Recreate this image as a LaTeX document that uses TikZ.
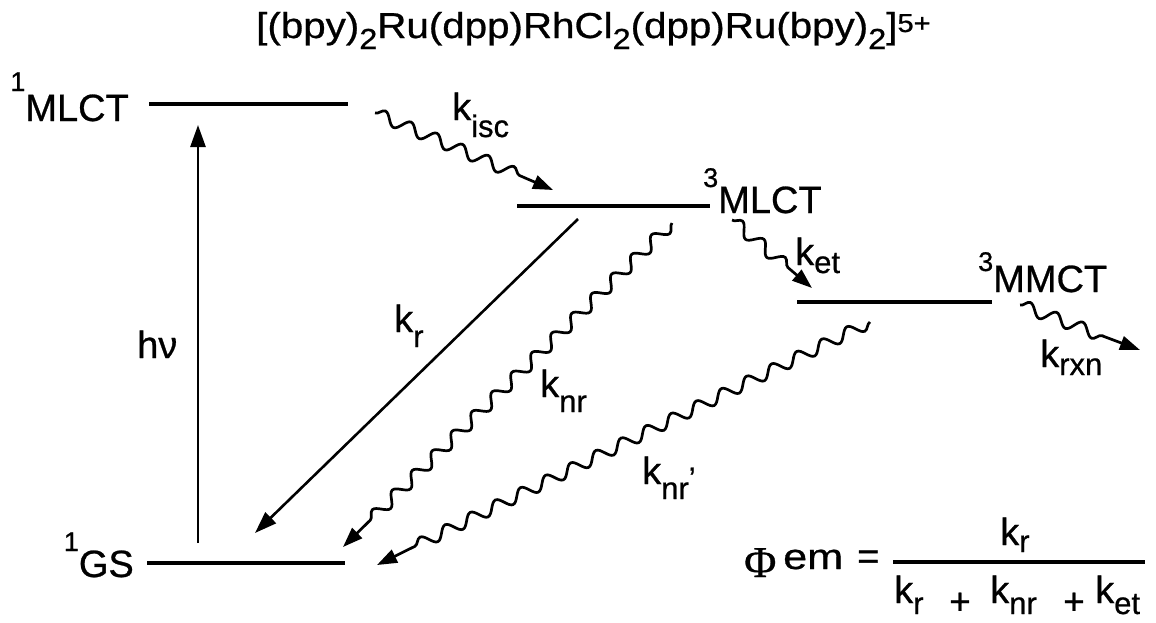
\documentclass[tikz,border=0pt]{standalone}
\usepackage{graphicx}
\usepackage{fontspec}
\setmainfont{Liberation Sans}[FakeBold=0.7]
\newfontfamily\serifphi{Liberation Serif}[FakeBold=0.7]
\usetikzlibrary{decorations.pathmorphing,arrows.meta}
\newcommand\Sub[2][16pt]{\raisebox{-#1}{\fontsize{31}{32}\selectfont #2}}
\newcommand\Sup[2][24pt]{\raisebox{#1}{\fontsize{27}{28}\selectfont #2}}
\newcommand\TSub[1]{\raisebox{-11pt}{\fontsize{29}{30}\selectfont #1}}
\newcommand\TSup[1]{\raisebox{6pt}{\fontsize{26}{28}\selectfont #1}}
\begin{document}
\begin{tikzpicture}[x=1pt,y=-1pt,
  lbl/.style={inner sep=0pt, font=\fontsize{38}{40}\selectfont},
  plussign/.style={inner sep=0pt, font=\fontsize{37}{39}\selectfont},
  level/.style={line width=3.2pt},
  straightarr/.style={line width=2.6pt, -{Triangle[length=22pt,width=15pt]}},
  wavyarr/.style={line width=2.7pt, -{Triangle[length=20pt,width=14pt]}, decorate,
    decoration={snake, amplitude=6pt, segment length=28pt, post length=30pt}},
]
\useasboundingbox (0,0) rectangle (1156,622);

% title
\node[lbl, anchor=base west] (title) at (256,38) {\scalebox{1.12}[1]{\fontsize{36}{38}\selectfont [(bpy)\TSub{2}Ru(dpp)RhCl\TSub{2}(dpp)Ru(bpy)\TSub{2}]\TSup{5+}}};

% level end points
\coordinate (m1a) at (149,104);  \coordinate (m1b) at (348,104);
\coordinate (m3a) at (517,206);  \coordinate (m3b) at (710,206);
\coordinate (mma) at (797,302);  \coordinate (mmb) at (992,302);
\coordinate (gsa) at (147,563);  \coordinate (gsb) at (345,563);
\draw[level] (m1a) -- (m1b);
\draw[level] (m3a) -- (m3b);
\draw[level] (mma) -- (mmb);
\draw[level] (gsa) -- (gsb);

% level labels
\node[lbl, anchor=base east] (mlct1) at (129,121) {\Sup[30pt]{1}MLCT};
\node[lbl, anchor=base east] (gs1) at (134,577) {\Sup[26pt]{1}GS};
\node[lbl, anchor=base west] (mlct3) at (703,213) {\Sup[26pt]{3}MLCT};
\node[lbl, anchor=base west] (mmct3) at (978,292) {\Sup[21pt]{3}MMCT};

% arrow end points
\coordinate (hvS) at (198,543);   \coordinate (hvE) at (198,125);
\coordinate (iscS) at (375,113);  \coordinate (iscE) at (553,190);
\coordinate (krS) at (578,219);   \coordinate (krE) at (255,533);
\coordinate (knrS) at (672,223);  \coordinate (knrE) at (343,547);
\coordinate (ketS) at (732,220);  \coordinate (ketE) at (812,288);
\coordinate (knpS) at (870,322);  \coordinate (knpE) at (377,565);
\coordinate (rxnS) at (1020,305); \coordinate (rxnE) at (1140,350);

\draw[straightarr] (hvS) -- (hvE);
\draw[straightarr] (krS) -- (krE);
\draw[wavyarr] (iscS) -- (iscE);
\draw[wavyarr] (knrS) -- (knrE);
\draw[wavyarr] (ketS) -- (ketE);
\draw[wavyarr] (knpS) -- (knpE);
\draw[wavyarr] (rxnS) -- (rxnE);

% rate labels
\node[lbl, anchor=base west] (hv) at (137,358) {hν};
\node[lbl, anchor=base west] (lisc) at (452,120) {k\Sub[17pt]{isc}};
\node[lbl, anchor=base west] (lr) at (394,332) {k\Sub[15pt]{r}};
\node[lbl, anchor=base west] (lnr) at (540,397) {k\Sub[15pt]{nr}};
\node[lbl, anchor=base west] (lnrp) at (642,484) {k\Sub[15pt]{nr\raisebox{10pt}{'}}};
\node[lbl, anchor=base west] (let) at (795,265) {k\Sub[8pt]{et}};
\node[lbl, anchor=base west] (lrxn) at (1040,367) {k\Sub[8pt]{rxn}};

% quantum yield
\node[anchor=base west, inner sep=0pt, font=\serifphi\fontsize{44}{46}\selectfont] (phi) at (744,577) {Φ};
\node[lbl, anchor=base west] (em) at (783,569) {\scalebox{1.2}[1]{\fontsize{36}{38}\selectfont em}};
\node[lbl, anchor=base west] (eq) at (857,569) {=};
\coordinate (fracL) at (893,562); \coordinate (fracR) at (1145,562);
\draw[level] (fracL) -- (fracR);
\node[lbl, anchor=base west] (num) at (1000,545) {k\Sub[7pt]{r}};
\node[lbl, anchor=base west] (d1) at (894,603) {k\Sub[11pt]{r}};
\node[plussign, anchor=base west] (p1) at (949,614) {+};
\node[lbl, anchor=base west] (d2) at (990,603) {k\Sub[11pt]{nr}};
\node[plussign, anchor=base west] (p2) at (1063,614) {+};
\node[lbl, anchor=base west] (d3) at (1095,603) {k\Sub[11pt]{et}};
\end{tikzpicture}
\end{document}
